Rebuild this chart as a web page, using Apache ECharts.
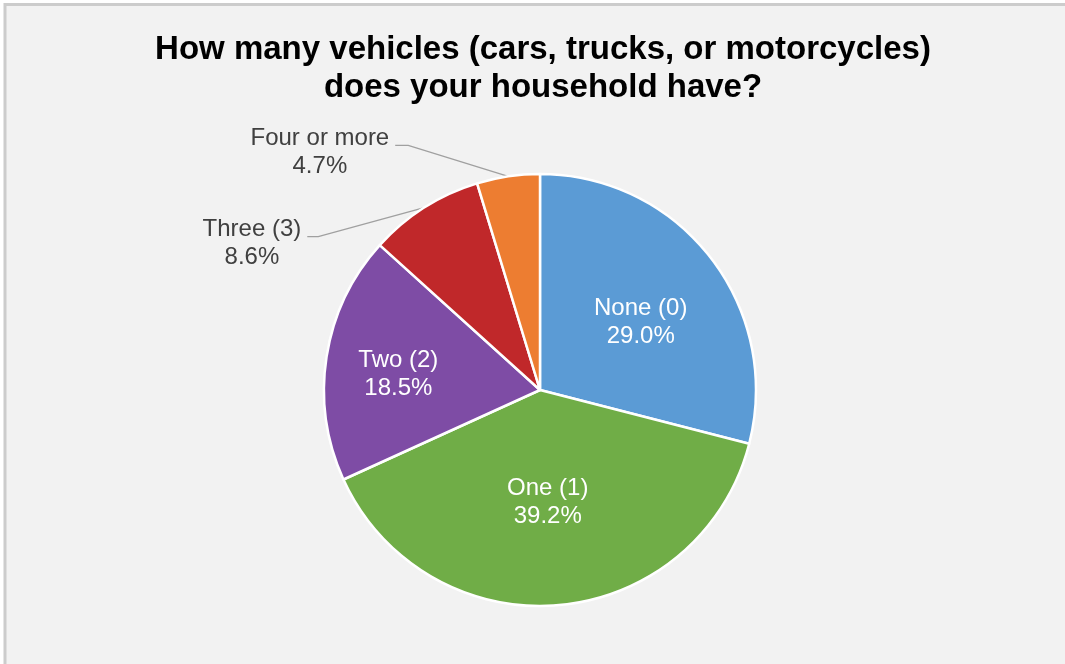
<!DOCTYPE html>
<html>
<head>
<meta charset="utf-8">
<script src="https://cdn.jsdelivr.net/npm/echarts@6/dist/echarts.min.js"></script>
<style>
  html, body { margin: 0; padding: 0; background: #ffffff; }
  #chart { width: 1065px; height: 664px; }
</style>
</head>
<body>
<div id="chart"></div>
<script>
// Household vehicle counts, share of respondents (%)
const categories = ['None (0)', 'One (1)', 'Two (2)', 'Three (3)', 'Four or more'];
const shares = [29.0, 39.2, 18.5, 8.6, 4.7];
const sliceColors = ['#5b9bd5', '#70ad47', '#7e4ca5', '#c0282a', '#ed7d31'];
const outsideLabelNames = ['Three (3)', 'Four or more'];

// Label placement tweaks (pixels)
const insideNudge = { 'None (0)': [13, 0], 'One (1)': [-2, 2], 'Two (2)': [-32, 1] };
// [elbow dx, elbow dy from slice edge, horizontal leg length]
const leaderShape = { 'Three (3)': [-106, 29, 11], 'Four or more': [-100, -31, 13] };

const FONT = 'Liberation Sans, Arial, sans-serif';
const LABEL_SIZE = 24;
const LABEL_LH = 28;

const chart = echarts.init(document.getElementById('chart'), null, { renderer: 'canvas' });

const pieData = categories.map((name, i) => {
  const item = { name, value: shares[i], itemStyle: { color: sliceColors[i] } };
  if (outsideLabelNames.includes(name)) {
    item.label = { position: 'outside', color: '#404040' };
    item.labelLine = { show: true };
  }
  return item;
});

chart.setOption({
  animation: false,
  backgroundColor: 'transparent',
  graphic: [{
    type: 'rect',
    silent: true,
    z: -10,
    shape: { x: 5, y: 4.5, width: 1200, height: 800 },
    style: { fill: '#f2f2f2', stroke: '#cccccc', lineWidth: 3 }
  }],
  title: {
    text: 'How many vehicles (cars, trucks, or motorcycles)\ndoes your household have?',
    left: 538,
    top: 26,
    textAlign: 'center',
    textStyle: {
      fontFamily: FONT,
      fontSize: 33,
      fontWeight: 'bold',
      color: '#000000',
      lineHeight: 38
    }
  },
  series: [{
    type: 'pie',
    center: [540, 390],
    radius: 216,
    startAngle: 90,
    clockwise: true,
    avoidLabelOverlap: false,
    emphasis: { disabled: true },
    itemStyle: { borderColor: '#ffffff', borderWidth: 2.5 },
    label: {
      show: true,
      position: 'inside',
      color: '#ffffff',
      fontFamily: FONT,
      fontSize: LABEL_SIZE,
      lineHeight: LABEL_LH,
      formatter: p => `{t|${p.name}}\n{t|${p.value.toFixed(1)}%}`,
      rich: {
        t: { align: 'center', fontFamily: FONT, fontSize: LABEL_SIZE, lineHeight: LABEL_LH }
      }
    },
    labelLine: {
      show: false,
      length: 20,
      length2: 10,
      lineStyle: { color: '#a0a0a0', width: 1.4 }
    },
    labelLayout: params => {
      const name = categories[params.dataIndex];
      const leader = leaderShape[name];
      if (leader && params.labelLinePoints) {
        const p0 = params.labelLinePoints[0];
        const elbow = [p0[0] + leader[0], p0[1] + leader[1]];
        const end = [elbow[0] - leader[2], elbow[1]];
        return {
          x: end[0] - 6,
          y: end[1] - 7 - LABEL_LH / 2,
          align: 'right',
          verticalAlign: 'top',
          labelLinePoints: [p0, elbow, end]
        };
      }
      const nudge = insideNudge[name];
      if (nudge) return { dx: nudge[0], dy: nudge[1] };
      return {};
    },
    data: pieData
  }]
});
</script>
</body>
</html>
